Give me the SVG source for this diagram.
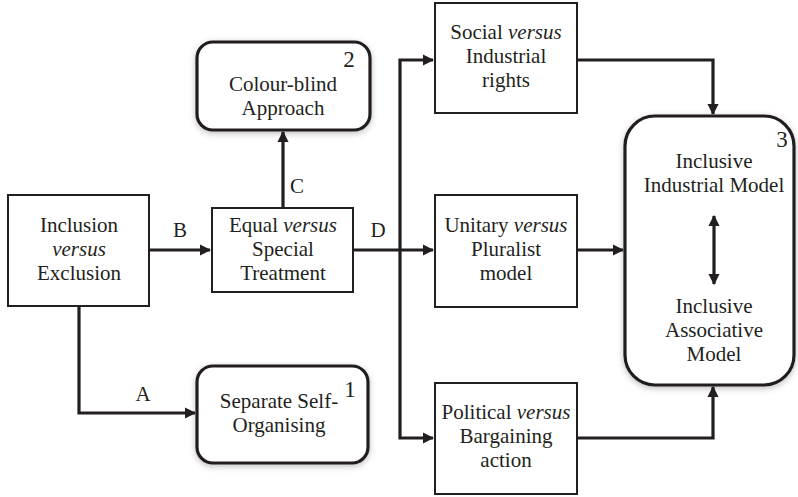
<svg xmlns="http://www.w3.org/2000/svg" width="798" height="497" viewBox="0 0 798 497">
<style>
text{font-size:21px;fill:#231f20;text-anchor:middle}
.it{font-style:italic}
.box{fill:#fff;stroke:#231f20;stroke-width:2}
.rbox{fill:#fff;stroke:#231f20;stroke-width:3.2}
.ln{fill:none;stroke:#231f20;stroke-width:3.2}
.num{font-size:23px}
</style>
<defs>
<marker id="ah" viewBox="0 0 10 10" refX="9" refY="5" markerWidth="3.6" markerHeight="3.6" orient="auto-start-reverse" markerUnits="strokeWidth">
<path d="M0,0 L10,5 L0,10 z" fill="#231f20"/>
</marker>
<filter id="sh" x="-10%" y="-10%" width="120%" height="125%">
<feDropShadow dx="0" dy="2" stdDeviation="3" flood-color="#000" flood-opacity="0.25"/>
</filter>
</defs>
<rect width="798" height="497" fill="#fff"/>
<g font-family="Liberation Serif">
<g id="connectors">
<path class="ln" d="M149,250 H210" marker-end="url(#ah)"/>
<path class="ln" d="M283,208 V132" marker-end="url(#ah)"/>
<path class="ln" d="M79,306 V413 H195" marker-end="url(#ah)"/>
<path class="ln" d="M353,250 H433" marker-end="url(#ah)"/>
<path class="ln" d="M400,250 V60 H433" marker-end="url(#ah)"/>
<path class="ln" d="M400,250 V438 H433" marker-end="url(#ah)"/>
<path class="ln" d="M577,60 H713 V114" marker-end="url(#ah)"/>
<path class="ln" d="M577,250 H623" marker-end="url(#ah)"/>
<path class="ln" d="M577,438 H713 V387" marker-end="url(#ah)"/>
<text x="180" y="237">B</text>
<text x="297" y="193">C</text>
<text x="378" y="237">D</text>
<text x="143" y="401">A</text>
</g>

<g id="inclusion">
<rect class="box" x="8" y="195" width="141" height="111"/>
<text x="79" y="232">Inclusion</text>
<text x="79" y="256" class="it">versus</text>
<text x="79" y="280">Exclusion</text>
</g>

<g id="equal">
<rect class="box" x="212" y="208" width="141" height="84"/>
<text x="283" y="232">Equal <tspan class="it">versus</tspan></text>
<text x="283" y="256">Special</text>
<text x="283" y="280">Treatment</text>
</g>

<g id="colourblind">
<rect class="rbox" x="197" y="42" width="173" height="88" rx="16" filter="url(#sh)"/>
<text x="283" y="91">Colour-blind</text>
<text x="283" y="115">Approach</text>
<text x="349" y="67" class="num">2</text>
</g>

<g id="separate">
<rect class="rbox" x="197" y="366" width="171" height="97" rx="16" filter="url(#sh)"/>
<text x="279" y="408">Separate Self-</text>
<text x="279" y="432">Organising</text>
<text x="350" y="397" class="num">1</text>
</g>

<g id="social">
<rect class="box" x="435" y="3" width="142" height="110"/>
<text x="506" y="39">Social <tspan class="it">versus</tspan></text>
<text x="506" y="63">Industrial</text>
<text x="506" y="87">rights</text>
</g>

<g id="unitary">
<rect class="box" x="435" y="195" width="142" height="112"/>
<text x="506" y="232">Unitary <tspan class="it">versus</tspan></text>
<text x="506" y="256">Pluralist</text>
<text x="506" y="280">model</text>
</g>

<g id="political">
<rect class="box" x="435" y="383" width="142" height="111"/>
<text x="506" y="419">Political <tspan class="it">versus</tspan></text>
<text x="506" y="443">Bargaining</text>
<text x="506" y="467">action</text>
</g>

<g id="inclusive">
<rect class="rbox" x="625" y="116" width="169" height="269" rx="30" filter="url(#sh)"/>
<text x="714" y="168">Inclusive</text>
<text x="714" y="192">Industrial Model</text>
<path class="ln" d="M714,216 V284" marker-start="url(#ah)" marker-end="url(#ah)"/>
<text x="714" y="313">Inclusive</text>
<text x="714" y="337">Associative</text>
<text x="714" y="361">Model</text>
<text x="782" y="147" class="num">3</text>
</g>
</g>
</svg>
